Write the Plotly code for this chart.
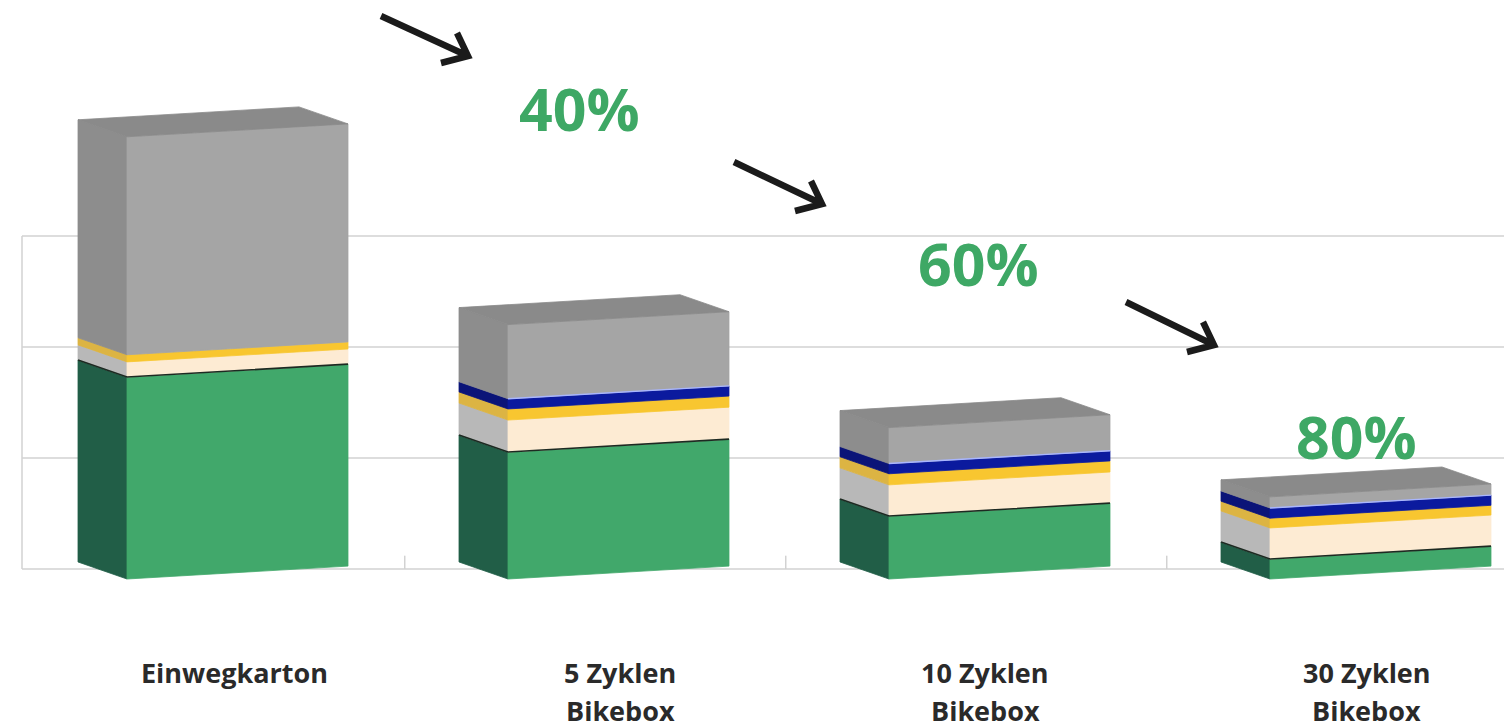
import plotly.graph_objects as go

# ---------------- data (percent of the single-use carton) ----------------
cat_line1 = ["Einwegkarton", "5 Zyklen", "10 Zyklen", "30 Zyklen"]
cat_line2 = ["", "Bikebox", "Bikebox", "Bikebox"]

green_vals = [45.5, 28.6, 14.2, 4.5]
cream_vals = [3.4, 7.2, 7.0, 7.0]
yellow_vals = [1.6, 2.5, 2.5, 2.2]
blue_vals = [0.0, 2.3, 2.3, 2.3]
gray_vals = [49.1, 16.7, 8.1, 2.5]

reductions = ["40%", "60%", "80%"]
grid_values = [0, 25, 50, 75]

# ---------------- geometry / style ----------------
W, H = 1504, 728
PX_X, X0_PX = 381.0, 237.5      # px per category, px of first category centre
PX_Y, Y0_PX = 4.44, 579.0       # px per unit, px of the baseline
BAR_W = 0.58
SLANT = 2.9                     # rise of the front face across its width
DX, DY = -0.1286, 3.83          # depth vector (towards the back)
FLOOR = 2.25                    # back-wall floor position

layers = [
    ("Schicht 1", green_vals, "#41a86b", "#215e47"),
    ("Schicht 2", cream_vals, "#fdebd3", "#b8b8b8"),
    ("Schicht 3", yellow_vals, "#f8c630", "#dcb443"),
    ("Schicht 4", blue_vals, "#0b1a9e", "#0b1478"),
    ("Schicht 5", gray_vals, "#a5a5a5", "#8d8d8d"),
]
TOP_COLOR = "#8a8a8a"

fig = go.Figure()

n = len(cat_line1)
bottoms = [0.0] * n
boundaries = {}
for li, (name, vals, fc, sc) in enumerate(layers):
    fx, fy, sx, sy = [], [], [], []
    for i in range(n):
        v = vals[i]
        b = bottoms[i]
        t = b + v
        boundaries[(li, i)] = (b, t)
        bottoms[i] = t
        if v <= 0:
            continue
        xl, xr = i - BAR_W / 2, i + BAR_W / 2
        fx += [xl, xr, xr, xl, xl, None]
        fy += [b, b + SLANT, t + SLANT, t, b, None]
        sx += [xl + DX, xl, xl, xl + DX, xl + DX, None]
        sy += [b + DY, b, t, t + DY, b + DY, None]
    fig.add_trace(go.Scatter(x=sx, y=sy, fill="toself", fillcolor=sc, mode="lines",
                             line=dict(color=sc, width=0.8), name=name + " Seite",
                             hoverinfo="skip", showlegend=False))
    fig.add_trace(go.Scatter(x=fx, y=fy, fill="toself", fillcolor=fc, mode="lines",
                             line=dict(color=fc, width=0.8), name=name,
                             hoverinfo="skip", showlegend=False))

# top faces
tx, ty = [], []
for i in range(n):
    t = bottoms[i]
    xl, xr = i - BAR_W / 2, i + BAR_W / 2
    tx += [xl, xr, xr + DX, xl + DX, xl, None]
    ty += [t, t + SLANT, t + SLANT + DY, t + DY, t, None]
fig.add_trace(go.Scatter(x=tx, y=ty, fill="toself", fillcolor=TOP_COLOR, mode="lines",
                         line=dict(color=TOP_COLOR, width=0.8), hoverinfo="skip",
                         showlegend=False))

# thin separating lines: top of green (black), top of blue (light blue)
lx, ly, bx, by = [], [], [], []
for i in range(n):
    xl, xr = i - BAR_W / 2, i + BAR_W / 2
    g_top = boundaries[(0, i)][1]
    lx += [xl + DX, xl, xr, None]
    ly += [g_top + DY, g_top, g_top + SLANT, None]
    if blue_vals[i] > 0:
        b_top = boundaries[(3, i)][1]
        bx += [xl, xr, None]
        by += [b_top, b_top + SLANT, None]
fig.add_trace(go.Scatter(x=lx, y=ly, mode="lines", line=dict(color="#1d2a22", width=1.6),
                         hoverinfo="skip", showlegend=False))
fig.add_trace(go.Scatter(x=bx, y=by, mode="lines", line=dict(color="#a9b6ff", width=1.4),
                         hoverinfo="skip", showlegend=False))

# ---------------- back wall grid ----------------
x_min = (0 - X0_PX) / PX_X
x_max = (W - X0_PX) / PX_X
y_min = (Y0_PX - H) / PX_Y
y_max = Y0_PX / PX_Y
grid_left = x_min + 22 / PX_X
shapes = []
for gv in grid_values:
    shapes.append(dict(type="line", xref="x", yref="y", x0=grid_left, x1=x_max,
                       y0=gv + FLOOR, y1=gv + FLOOR, layer="below",
                       line=dict(color="#d2d2d2", width=1.5)))
shapes.append(dict(type="line", xref="x", yref="y", x0=grid_left, x1=grid_left,
                   y0=grid_values[0] + FLOOR, y1=grid_values[-1] + FLOOR, layer="below",
                   line=dict(color="#d2d2d2", width=1.5)))
for i in range(n - 1):
    xt = i + 0.5 + DX / 2 * 0.95
    shapes.append(dict(type="line", xref="x", yref="y", x0=xt, x1=xt,
                       y0=FLOOR, y1=FLOOR + 3.0, layer="below",
                       line=dict(color="#d2d2d2", width=1.5)))

# ---------------- arrows (decoration) ----------------
def P(px, py):
    return px / W, 1 - py / H

arrow_tails = [(381, 16), (734, 162), (1126, 302)]
arrow_tips = [(468, 56), (822, 204), (1214, 345)]
for (x0, y0), (x1, y1) in zip(arrow_tails, arrow_tips):
    a0 = P(x0, y0); a1 = P(x1, y1)
    h1 = P(x1 - 11, y1 - 23); h2 = P(x1 - 27, y1 + 7)
    path = (f"M {a0[0]},{a0[1]} L {a1[0]},{a1[1]} "
            f"M {h1[0]},{h1[1]} L {a1[0]},{a1[1]} L {h2[0]},{h2[1]}")
    shapes.append(dict(type="path", xref="paper", yref="paper", path=path,
                       line=dict(color="#1b1b1b", width=6.5)))

annotations = []
red_pos = [(579, 108), (978, 263), (1356, 436)]
for txt, (px, py) in zip(reductions, red_pos):
    ax_, ay_ = P(px, py)
    annotations.append(dict(text=txt, x=ax_, y=ay_, xref="paper", yref="paper",
                            showarrow=False, xanchor="center", yanchor="middle",
                            font=dict(family="Open Sans", size=59, color="#3ea865",
                                      weight=700)))

# category labels
label_y1 = (Y0_PX - 672) / PX_Y
label_y2 = (Y0_PX - 710) / PX_Y
label_dx = [-0.007, 0.005, -0.038, -0.036]
for i in range(n):
    for txt, yy in ((cat_line1[i], label_y1), (cat_line2[i], label_y2)):
        if txt:
            annotations.append(dict(text=txt, x=i + label_dx[i], y=yy, xref="x", yref="y",
                                    showarrow=False, xanchor="center", yanchor="middle",
                                    font=dict(family="Open Sans", size=27, color="#2a2a2a",
                                              weight=700)))

fig.update_layout(
    width=W, height=H,
    margin=dict(l=0, r=0, t=0, b=0),
    paper_bgcolor="white", plot_bgcolor="white",
    xaxis=dict(range=[x_min, x_max], visible=False, fixedrange=True),
    yaxis=dict(range=[y_min, y_max], visible=False, fixedrange=True),
    shapes=shapes, annotations=annotations, showlegend=False,
    hovermode=False,
)

fig.write_html("out.html")
